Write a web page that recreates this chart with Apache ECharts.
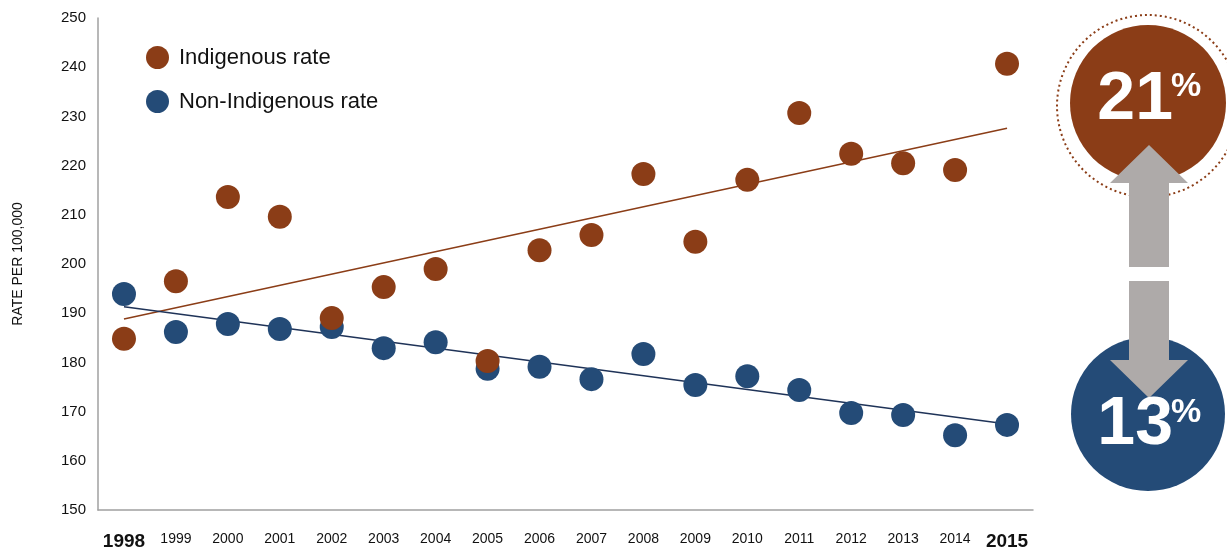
<!DOCTYPE html>
<html>
<head>
<meta charset="utf-8">
<script src="https://cdn.jsdelivr.net/npm/echarts@6/dist/echarts.min.js"></script>
<style>
html,body{margin:0;padding:0;background:#fff;}
#chart{width:1227px;height:548px;}
</style>
</head>
<body>
<div id="chart"></div>
<script>
const years = ['1998','1999','2000','2001','2002','2003','2004','2005','2006','2007','2008','2009','2010','2011','2012','2013','2014','2015'];
const indigenousRate = [184.8,196.5,213.6,209.6,189.0,195.3,199.0,180.3,202.8,205.9,218.3,204.5,217.1,230.7,222.4,220.5,219.1,240.7];
const nonIndigenousRate = [193.9,186.2,187.8,186.8,187.2,182.9,184.1,178.7,179.1,176.6,181.7,175.4,177.2,174.4,169.7,169.3,165.2,167.3];
const indigenousTrend = [188.8, 227.6];   // trend at 1998 and 2015
const nonIndigenousTrend = [191.3, 167.5]; // trend at 1998 and 2015
const yTicks = {min:150, max:250, interval:10};
const indigenousChange = '21';
const nonIndigenousChange = '13';

const BROWN = '#8B3D17';
const BLUE = '#244B77';
const GRAY = '#AEAAA9';
const FONT = 'Liberation Sans, Arial';

const chart = echarts.init(document.getElementById('chart'));
const first = years[0], last = years[years.length-1];
chart.setOption({
  animation:false,
  grid:{left:98, right:194, top:18, bottom:38, containLabel:false, outerBoundsMode:'none'},
  legend:{
    data:['Indigenous rate','Non-Indigenous rate'],
    orient:'vertical', left:141, top:41, itemGap:21,
    icon:'circle', itemWidth:23, itemHeight:23,
    textStyle:{fontFamily:FONT, fontSize:22, color:'#111', padding:[0,0,0,5]}
  },
  xAxis:{
    type:'category', data:years, boundaryGap:true,
    axisLine:{lineStyle:{color:'#A0A0A0', width:1.5}},
    axisTick:{show:false},
    axisLabel:{
      interval:0, margin:22, color:'#111', fontFamily:FONT, fontSize:14,
      formatter:(v)=> (v===first||v===last) ? '{b|'+v+'}' : v,
      rich:{b:{fontSize:19, fontWeight:'bold', color:'#111', fontFamily:FONT}}
    }
  },
  yAxis:{
    type:'value', min:yTicks.min, max:yTicks.max, interval:yTicks.interval,
    name:'RATE PER 100,000', nameLocation:'middle', nameGap:73, nameRotate:90,
    nameTextStyle:{fontFamily:FONT, fontSize:14, color:'#111'},
    axisLine:{show:true, lineStyle:{color:'#A0A0A0', width:1.5}},
    axisTick:{show:false},
    splitLine:{show:false},
    axisLabel:{margin:12, color:'#111', fontFamily:FONT, fontSize:15}
  },
  series:[
    {name:'Indigenous trend', type:'line', data:[[first,indigenousTrend[0]],[last,indigenousTrend[1]]],
     symbol:'none', lineStyle:{color:BROWN, width:1.5}, z:1},
    {name:'Non-Indigenous trend', type:'line', data:[[first,nonIndigenousTrend[0]],[last,nonIndigenousTrend[1]]],
     symbol:'none', lineStyle:{color:'#1F3358', width:1.5}, z:1},
    {name:'Non-Indigenous rate', type:'scatter', data:nonIndigenousRate, symbolSize:24,
     itemStyle:{color:BLUE, opacity:1}, z:3},
    {name:'Indigenous rate', type:'scatter', data:indigenousRate, symbolSize:24,
     itemStyle:{color:BROWN, opacity:1}, z:4}
  ],
  graphic:[
    {type:'circle', shape:{cx:1148, cy:106, r:91}, style:{fill:null, stroke:BROWN, lineWidth:2, lineDash:[2,3]}, z:10},
    {type:'circle', shape:{cx:1148, cy:103, r:78}, style:{fill:BROWN}, z:11},
    {type:'circle', shape:{cx:1148, cy:414, r:77}, style:{fill:BLUE}, z:11},
    {type:'polygon', shape:{points:[[1149,145],[1188,183],[1169,183],[1169,267],[1129,267],[1129,183],[1110,183]]},
     style:{fill:GRAY}, z:12},
    {type:'polygon', shape:{points:[[1129,281],[1169,281],[1169,360],[1188,360],[1149,398],[1110,360],[1129,360]]},
     style:{fill:GRAY}, z:12},
    {type:'text', x:1173, y:134, style:{text:indigenousChange, fill:'#fff', font:'bold 68px '+FONT, textAlign:'right', textVerticalAlign:'bottom'}, z:13},
    {type:'text', x:1171, y:70, style:{text:'%', fill:'#fff', font:'bold 34px '+FONT, textAlign:'left', textVerticalAlign:'top'}, z:13},
    {type:'text', x:1173, y:459, style:{text:nonIndigenousChange, fill:'#fff', font:'bold 68px '+FONT, textAlign:'right', textVerticalAlign:'bottom'}, z:13},
    {type:'text', x:1171, y:396, style:{text:'%', fill:'#fff', font:'bold 34px '+FONT, textAlign:'left', textVerticalAlign:'top'}, z:13}
  ]
});
</script>
</body>
</html>
